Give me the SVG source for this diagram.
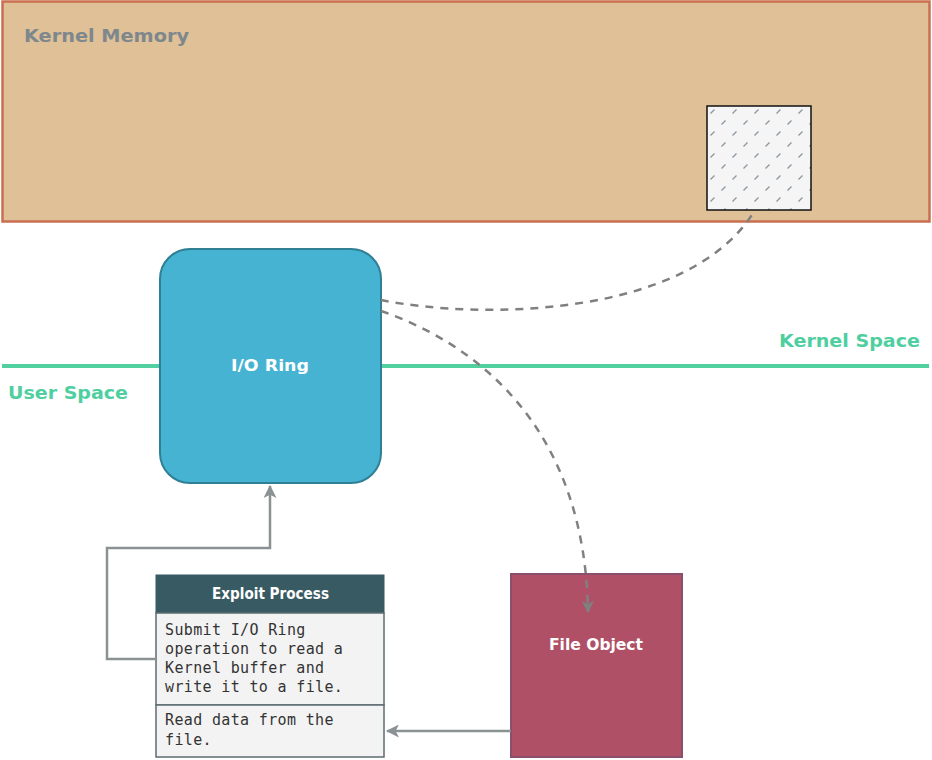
<svg xmlns="http://www.w3.org/2000/svg" width="932" height="760" viewBox="0 0 932 760">
<defs>
<style>
.bold{font-family:"DejaVu Sans","Liberation Sans",sans-serif;font-weight:bold}
.hdr{font-family:"DejaVu Sans Condensed","DejaVu Sans","Liberation Sans",sans-serif;font-weight:bold}
.mono{font-family:"DejaVu Sans Mono","Liberation Mono",monospace;font-size:15px;letter-spacing:0.35px;fill:#333}
.dash{fill:none;stroke:#808080;stroke-width:2.5;stroke-dasharray:8 7}
.solid{fill:none;stroke:#8a9294;stroke-width:2.5}
</style>
<pattern id="hatch" x="707" y="106" width="22" height="22" patternUnits="userSpaceOnUse">
<rect width="22" height="22" fill="#f5f5f5"/>
<path d="M3.5,7.5 L7.5,3.5 M14.5,18.5 L18.5,14.5" stroke="#8a97a2" stroke-width="1.3"/>
</pattern>
<marker id="arr" viewBox="0 0 12 12" refX="11" refY="6" markerWidth="12" markerHeight="12" markerUnits="userSpaceOnUse" orient="auto">
<path d="M0,0 L12,6 L0,12 L3,6 Z" fill="#808080"/>
</marker>
<marker id="arr2" viewBox="0 0 12 12" refX="11" refY="6" markerWidth="13" markerHeight="13" markerUnits="userSpaceOnUse" orient="auto">
<path d="M0,0 L12,6 L0,12 L3,6 Z" fill="#8a9294"/>
</marker>
</defs>
<rect width="932" height="760" fill="#ffffff"/>

<g id="kernel-memory">
<rect x="2.5" y="1.5" width="927" height="220" fill="#dfc097" stroke="#c96f50" stroke-width="2.5"/>
<text x="24" y="42" class="bold" font-size="18" fill="#7e878c" textLength="165" lengthAdjust="spacingAndGlyphs">Kernel Memory</text>
</g>

<g id="kernel-buffer">
<rect x="707" y="106" width="104" height="104" fill="url(#hatch)" stroke="#111" stroke-width="1.5"/>
</g>

<g id="boundary">
<line x1="2" y1="366" x2="929" y2="366" stroke="#52d0a0" stroke-width="4"/>
<text x="779" y="347" class="bold" font-size="18" fill="#4fcf9f" textLength="141" lengthAdjust="spacingAndGlyphs">Kernel Space</text>
<text x="8" y="399" class="bold" font-size="18" fill="#4fcf9f" textLength="120" lengthAdjust="spacingAndGlyphs">User Space</text>
</g>

<g id="io-ring">
<rect x="160" y="249" width="221" height="234" rx="30" fill="#45b3d1" stroke="#2f7f95" stroke-width="2"/>
<text x="231" y="371" class="bold" font-size="16" fill="#ffffff" textLength="78" lengthAdjust="spacingAndGlyphs">I/O Ring</text>
</g>

<g id="exploit-process">
<rect x="156" y="575" width="228" height="38" fill="#385a63" stroke="#385a63" stroke-width="1"/>
<text x="212" y="599" class="hdr" font-size="15" fill="#ffffff" textLength="117" lengthAdjust="spacingAndGlyphs">Exploit Process</text>
<rect x="156" y="613" width="228" height="92" fill="#f3f3f3" stroke="#5c6c70" stroke-width="1.5"/>
<rect x="156" y="705" width="228" height="52" fill="#f3f3f3" stroke="#5c6c70" stroke-width="1.5"/>
<text class="mono"><tspan x="165" y="635">Submit I/O Ring</tspan><tspan x="165" y="654">operation to read a</tspan><tspan x="165" y="673">Kernel buffer and</tspan><tspan x="165" y="692">write it to a file.</tspan></text>
<text class="mono"><tspan x="165" y="725">Read data from the</tspan><tspan x="165" y="745">file.</tspan></text>
</g>

<g id="file-object">
<rect x="511" y="574" width="171" height="183" fill="#af5066" stroke="#8a4f6c" stroke-width="2"/>
<text x="549" y="650" class="bold" font-size="16" fill="#ffffff" textLength="94" lengthAdjust="spacingAndGlyphs">File Object</text>
</g>

<g id="connectors">
<path class="dash" d="M381,300 C 480,320 690,318 755,210"/>
<path class="dash" d="M381,311 C 480,345 585,430 588,612" marker-end="url(#arr)"/>
<path class="solid" d="M156,659 H107 V548 H270 V486" marker-end="url(#arr2)"/>
<path class="solid" d="M511,731 H387" marker-end="url(#arr2)"/>
</g>
</svg>
